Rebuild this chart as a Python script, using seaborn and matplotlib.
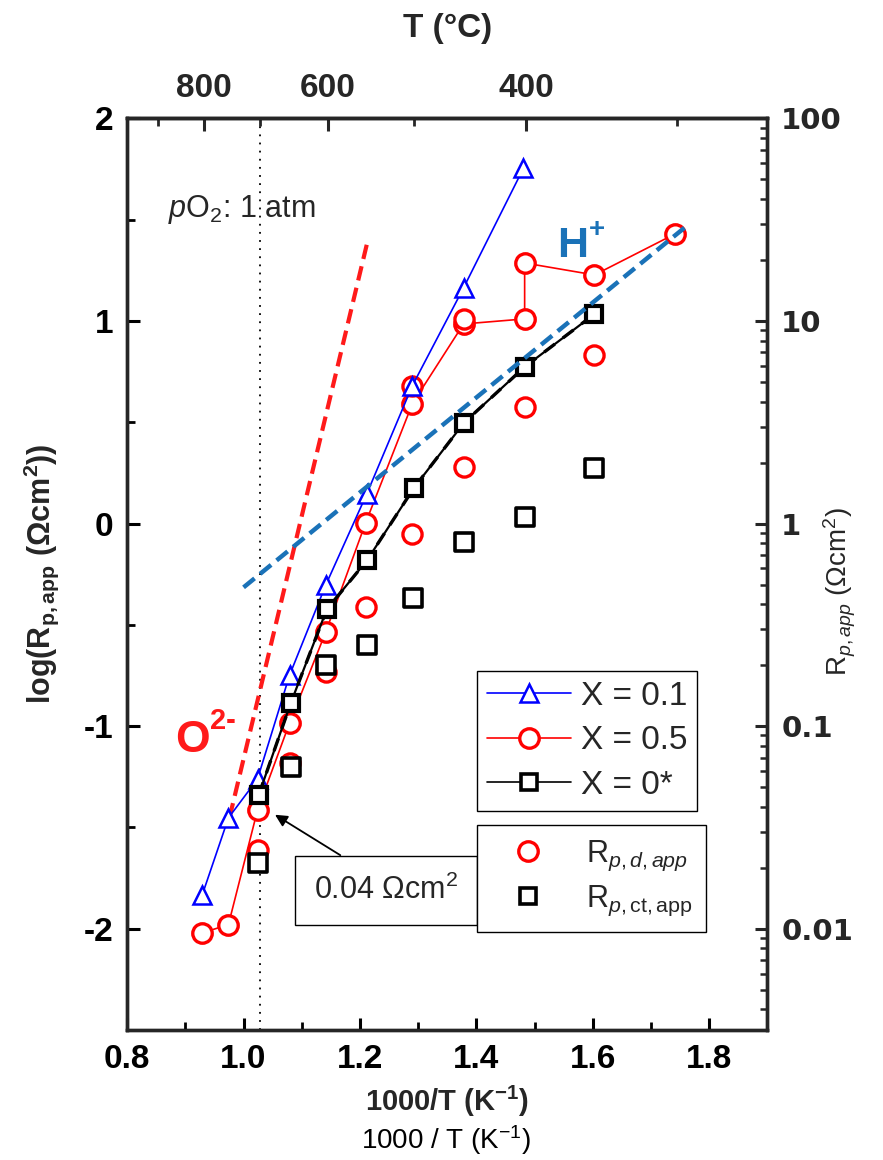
import numpy as np
import pandas as pd
import matplotlib
matplotlib.use("Agg")
import matplotlib.pyplot as plt
import seaborn as sns
from matplotlib.lines import Line2D
from matplotlib.ticker import MultipleLocator, LogLocator, NullFormatter, FixedLocator, FuncFormatter

# ---------------- data ----------------
# X = 0.1 (blue triangles, connected)
x01 = [0.929, 0.974, 1.024, 1.079, 1.141, 1.212, 1.290, 1.378, 1.481]
y01 = [-1.833, -1.453, -1.261, -0.749, -0.305, 0.148, 0.680, 1.163, 1.754]
# X = 0.5 (red circles, connected)
x05 = [0.929, 0.974, 1.024, 1.079, 1.141, 1.210, 1.290, 1.378, 1.483, 1.483, 1.603, 1.741]
y05 = [-2.02, -1.98, -1.414, -0.985, -0.537, 0.005, 0.591, 0.985, 1.010, 1.286, 1.227, 1.429]
# X = 0.5 extra (red circles, not connected)
x05b = [1.290, 1.378]
y05b = [0.680, 1.010]
# X = 0* (black squares, connected)
x0 = [1.026, 1.081, 1.143, 1.212, 1.293, 1.379, 1.483, 1.603]
y0 = [-1.340, -0.887, -0.424, -0.182, 0.177, 0.498, 0.773, 1.034]
# R_p,d,app (red circles)
xd = [1.024, 1.079, 1.141, 1.210, 1.290, 1.379, 1.483, 1.603]
yd = [-1.611, -1.182, -0.734, -0.414, -0.054, 0.281, 0.576, 0.833]
# R_p,ct,app (black squares)
xct = [1.024, 1.081, 1.141, 1.212, 1.291, 1.379, 1.483, 1.603]
yct = [-1.675, -1.202, -0.700, -0.601, -0.365, -0.089, 0.030, 0.276]
# guide lines
o2_x = [0.976, 1.212]
o2_y = [-1.45, 1.38]
h_x = [1.000, 1.759]
h_y = [-0.315, 1.463]

temp_major = [800, 600, 400]
temp_minor = [900, 700, 500, 300]
right_ticks = [0.01, 0.1, 1, 10, 100]

# ---------------- style ----------------
sns.set_theme(style="white")
plt.rcParams['font.family'] = ['Liberation Sans', 'DejaVu Sans']
plt.rcParams['axes.unicode_minus'] = False
plt.rcParams['mathtext.fontset'] = 'custom'
plt.rcParams['mathtext.rm'] = 'Liberation Sans'
plt.rcParams['mathtext.it'] = 'Liberation Sans:italic'
plt.rcParams['mathtext.bf'] = 'Liberation Sans:bold'
plt.rcParams['mathtext.sf'] = 'Liberation Sans'

fig = plt.figure(figsize=(8.83, 11.6), dpi=100)
ax = fig.add_axes([0.144, 0.112, 0.725, 0.786])
ax.set_facecolor('white')

# guide lines
sns.lineplot(x=o2_x, y=o2_y, ax=ax, color='#ff1a1a', lw=3, ls=(0, (3.5, 1.8)), zorder=2)
# vertical dotted line at 700 C
ax.axvline(1000 / (700 + 273.15), color='black', ls=(0, (1, 3.5)), lw=1.3, zorder=1)

# X = 0.5 connected
sns.lineplot(x=x05, y=y05, ax=ax, sort=False, estimator=None, color='red', lw=1.2,
             marker='o', markersize=14, markerfacecolor='white', markeredgecolor='red',
             markeredgewidth=2.4, zorder=3)
sns.scatterplot(x=x05b, y=y05b, ax=ax, marker='o', s=190, facecolor='white',
                edgecolor='red', linewidth=2.4, zorder=3)
sns.scatterplot(x=xd, y=yd, ax=ax, marker='o', s=190, facecolor='white',
                edgecolor='red', linewidth=2.4, zorder=3)
sns.scatterplot(x=xct, y=yct, ax=ax, marker='s', s=150, facecolor='white',
                edgecolor='black', linewidth=2.6, zorder=3.5)
# X = 0.1 connected
sns.lineplot(x=x01, y=y01, ax=ax, sort=False, estimator=None, color='blue', lw=1.2,
             marker='^', markersize=13, markerfacecolor='white', markeredgecolor='blue',
             markeredgewidth=1.8, zorder=4)
# X = 0* connected
sns.lineplot(x=x0, y=y0, ax=ax, sort=False, estimator=None, color='black', lw=1.6,
             marker='s', markersize=12, markerfacecolor='white', markeredgecolor='black',
             markeredgewidth=3.0, zorder=5)
sns.lineplot(x=x0, y=y0, ax=ax, sort=False, estimator=None, color='black', lw=2.4,
             ls=(0, (4, 3)), zorder=4.5)

sns.lineplot(x=h_x, y=h_y, ax=ax, color='#1a72b8', lw=3.2, ls=(0, (3.2, 1.6)), zorder=6)

ax.set_xlim(0.8, 1.9)
ax.set_ylim(-2.5, 2.0)

# axes styling
for s in ax.spines.values():
    s.set_linewidth(2.4)
    s.set_color('black')
ax.xaxis.set_major_locator(MultipleLocator(0.2))
ax.xaxis.set_minor_locator(MultipleLocator(0.1))
ax.yaxis.set_major_locator(MultipleLocator(1))
ax.yaxis.set_minor_locator(MultipleLocator(0.5))
ax.xaxis.set_major_formatter(FuncFormatter(lambda v, p: f"{v:.1f}"))
ax.yaxis.set_major_formatter(FuncFormatter(lambda v, p: f"{v:.0f}"))
ax.tick_params(axis='both', which='major', direction='in', length=9, width=2.2,
               labelsize=24, pad=10, color='black', labelcolor='black')
ax.tick_params(axis='both', which='minor', direction='in', length=6, width=2.0, color='black')
ax.tick_params(axis='x', which='both', top=False, bottom=True)
ax.tick_params(axis='y', which='both', left=True, right=False)
for lab in ax.get_xticklabels() + ax.get_yticklabels():
    lab.set_fontweight('bold')

ax.set_xlabel("1000/T (K$^{\\mathbf{-1}}$)", fontsize=21, fontweight='bold', labelpad=6)
ax.set_ylabel("log(R$_{\\mathbf{p,app}}$ (Ωcm$^{\\mathbf{2}}$))", fontsize=22,
              fontweight='bold', labelpad=16)
fig.text(0.505, 0.017, "1000 / T (K$^{-1}$)", ha='center', va='center', fontsize=20,
         color='black')

# top temperature axis
sec = ax.secondary_xaxis('top', functions=(lambda x: 1000.0 / np.asarray(x, float) - 273.15,
                                           lambda t: 1000.0 / (np.asarray(t, float) + 273.15)))
sec.xaxis.set_major_locator(FixedLocator(temp_major))
sec.xaxis.set_minor_locator(FixedLocator(temp_minor))
sec.xaxis.set_minor_formatter(NullFormatter())
sec.tick_params(axis='x', which='major', direction='in', length=9, width=2.2,
                labelsize=24, pad=10)
sec.tick_params(axis='x', which='minor', direction='in', length=6, width=2.0)
for lab in sec.get_xticklabels():
    lab.set_fontweight('bold')
sec.set_xlabel("T (°C)", fontsize=24, fontweight='bold', labelpad=26)
sec.spines['top'].set_linewidth(2.4)

# right log axis
ax2 = ax.twinx()
ax2.set_yscale('log')
ax2.set_ylim(10 ** -2.5, 100)
ax2.yaxis.set_major_locator(FixedLocator(right_ticks))
ax2.yaxis.set_minor_locator(LogLocator(base=10, subs=np.arange(2, 10), numticks=20))
ax2.yaxis.set_minor_formatter(NullFormatter())
ax2.yaxis.set_major_formatter(FuncFormatter(lambda v, p: f"{v:g}"))
ax2.tick_params(axis='y', which='major', direction='in', length=9, width=2.2,
                labelsize=21, pad=10)
ax2.tick_params(axis='y', which='minor', direction='in', length=5, width=1.8)
for lab in ax2.get_yticklabels():
    lab.set_fontweight('bold')
    lab.set_fontfamily('DejaVu Sans')
for s in ax2.spines.values():
    s.set_linewidth(2.4)
ax2.grid(False)
fig.text(0.951, 0.49, "R$_{p,app}$ (Ωcm$^2$)", fontsize=20, rotation=90,
         ha='center', va='center')

# texts
ax.text(0.871, 1.55, "$p$O$_2$: 1 atm", fontsize=22, va='center', ha='left', zorder=7)
ax.text(0.883, -1.07, "O", fontsize=32, fontweight='bold', color='#ff1a1a',
        va='center', ha='left', zorder=7)
ax.annotate("2-", xy=(0.883, -1.07), xytext=(25, 4), textcoords='offset points',
            fontsize=21, fontweight='bold', color='#ff1a1a', va='bottom', ha='left', zorder=7)
ax.text(1.538, 1.37, "H", fontsize=31, fontweight='bold', color='#1a72b8',
        va='center', ha='left', zorder=7)
ax.annotate("+", xy=(1.538, 1.37), xytext=(23, 2), textcoords='offset points',
            fontsize=20, fontweight='bold', color='#1a72b8', va='bottom', ha='left', zorder=7)

ax.annotate("0.04 Ωcm$^2$", xy=(1.05, -1.43), xytext=(1.245, -1.81),
            textcoords='data', fontsize=22, ha='center', va='center', zorder=8,
            bbox=dict(boxstyle='square,pad=0.62', fc='white', ec='black', lw=1.0),
            arrowprops=dict(arrowstyle='-|>', color='black', lw=1.3, mutation_scale=18,
                            relpos=(0.4, 1.0), shrinkA=0, shrinkB=2))

# legends
h1 = [Line2D([], [], color='blue', lw=1.2, marker='^', markersize=13, mfc='white', mec='blue', mew=1.8),
      Line2D([], [], color='red', lw=1.2, marker='o', markersize=14, mfc='white', mec='red', mew=2.4),
      Line2D([], [], color='black', lw=1.2, marker='s', markersize=12, mfc='white', mec='black', mew=2.6)]
leg1 = ax.legend(h1, ["X = 0.1", "X = 0.5", "X = 0*"], loc='upper left',
                 bbox_to_anchor=(0.547, 0.394), fontsize=24, frameon=True, fancybox=False,
                 edgecolor='black', framealpha=1, handlelength=2.5, handletextpad=0.3,
                 labelspacing=0.4, borderpad=0.3, borderaxespad=0)
leg1.get_frame().set_linewidth(1.0)
leg1.set_zorder(9)
ax.add_artist(leg1)

h2 = [Line2D([], [], ls='none', marker='o', markersize=14, mfc='white', mec='red', mew=2.4),
      Line2D([], [], ls='none', marker='s', markersize=12, mfc='white', mec='black', mew=2.6)]
leg2 = ax.legend(h2, ["R$_{p,d,app}$", "R$_{p,\\mathrm{ct,app}}$"], loc='upper left',
                 bbox_to_anchor=(0.547, 0.225), fontsize=22, frameon=True, fancybox=False,
                 edgecolor='black', framealpha=1, handlelength=2.4, handletextpad=0.7,
                 labelspacing=0.35, borderpad=0.45, borderaxespad=0)
leg2.get_frame().set_linewidth(1.0)
leg2.set_zorder(10)

fig.savefig("out.png", dpi=100, facecolor='white')
